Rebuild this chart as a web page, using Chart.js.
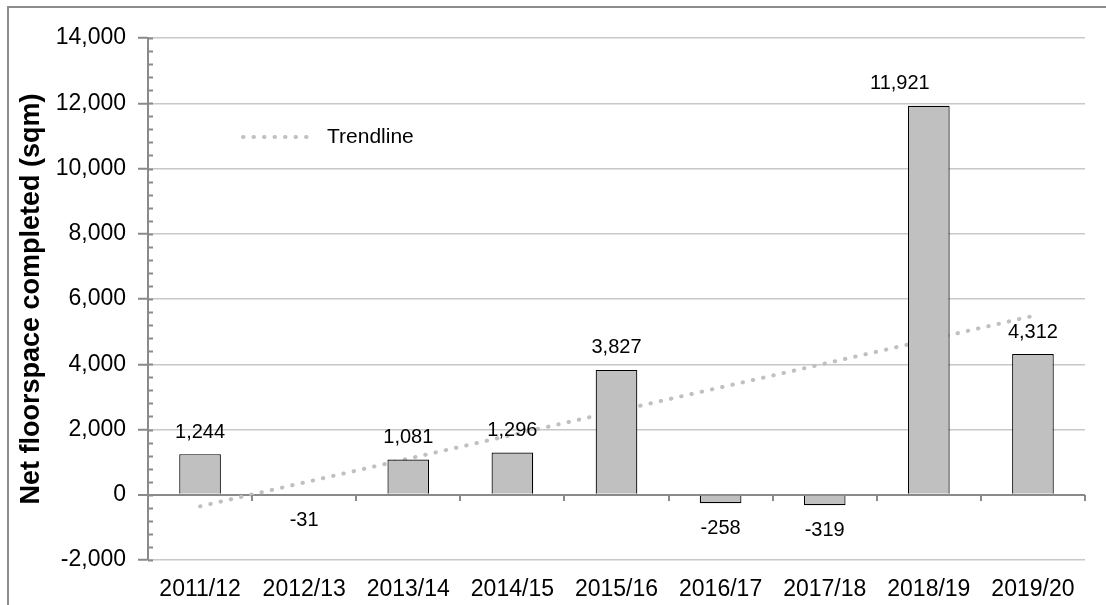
<!DOCTYPE html>
<html>
<head>
<meta charset="utf-8">
<script src="https://cdn.jsdelivr.net/npm/chart.js@4.4.1/dist/chart.umd.min.js"></script>
<style>
  body { margin: 0; background: #fff; }
  #wrap { position: relative; width: 1106px; height: 605px; overflow: hidden; }
  #frame { position: absolute; left: 7px; top: 6px; width: 1200px; height: 700px;
           border-top: 2px solid #8c8c8c; border-left: 2px solid #8c8c8c; }
  canvas { position: absolute; left: 0; top: 0; }
</style>
</head>
<body>
<div id="wrap">
  <div id="frame"></div>
  <canvas id="chart" width="1106" height="605"></canvas>
</div>
<script>
// Net floorspace completed per monitoring year
const years = ['2011/12', '2012/13', '2013/14', '2014/15', '2015/16',
               '2016/17', '2017/18', '2018/19', '2019/20'];
const floorspace = [1244, -31, 1081, 1296, 3827, -258, -319, 11921, 4312];
// linear trendline, one point per year
const trendline = [-355, 375, 1105, 1835, 2565, 3290, 4020, 4750, 5480];
const yTicks = [-2000, 0, 2000, 4000, 6000, 8000, 10000, 12000, 14000];

const FONT = "'Liberation Sans', Arial, sans-serif";
const AXIS_GREY = '#8a8a8a';
// the 2018/19 label sits a little left of its bar in the original
const LABEL_NUDGE = { 7: -29 };

const fmt = v => v.toLocaleString('en-US');

// value labels above/below the bars
const barLabels = {
  id: 'barLabels',
  afterDatasetsDraw(chart) {
    const ctx = chart.ctx;
    const meta = chart.getDatasetMeta(0);
    ctx.save();
    ctx.font = '20px ' + FONT;
    ctx.fillStyle = '#000';
    ctx.textAlign = 'center';
    ctx.textBaseline = 'middle';
    meta.data.forEach((bar, i) => {
      const v = floorspace[i];
      const y = v >= 0 ? bar.y - 22 : bar.y + 25;
      ctx.fillText(fmt(v), bar.x + (LABEL_NUDGE[i] || 0), y);
    });
    ctx.restore();
  }
};

// excel-ish axis details: minor ticks on y, category ticks hanging off the zero line,
// and the legend sitting inside the plot
const axisBits = {
  id: 'axisBits',
  afterDraw(chart) {
    const ctx = chart.ctx;
    const { left, right, top } = chart.chartArea;
    const y = chart.scales.y;
    const x = chart.scales.x;
    ctx.save();
    ctx.strokeStyle = AXIS_GREY;
    ctx.lineWidth = 2;
    ctx.beginPath();
    for (let v = y.min; v <= y.max; v += 400) {
      const py = Math.round(y.getPixelForValue(v)) + 0.5;
      ctx.moveTo(left, py);
      ctx.lineTo(left + 5, py);
    }
    const zy = Math.round(y.getPixelForValue(0));
    for (let i = 0; i < years.length; i++) {
      const bx = i < years.length - 1
        ? (x.getPixelForValue(i) + x.getPixelForValue(i + 1)) / 2
        : right;
      ctx.moveTo(Math.round(bx), zy);
      ctx.lineTo(Math.round(bx), zy + 6);
    }
    ctx.stroke();

    // legend
    const ds = chart.data.datasets[1];
    const ly = top + 99;
    ctx.strokeStyle = ds.borderColor;
    ctx.lineWidth = ds.borderWidth;
    ctx.lineCap = 'round';
    ctx.setLineDash(ds.borderDash);
    ctx.beginPath();
    ctx.moveTo(left + 95, ly);
    ctx.lineTo(left + 166, ly);
    ctx.stroke();
    ctx.setLineDash([]);
    ctx.fillStyle = '#000';
    ctx.font = '21px ' + FONT;
    ctx.textAlign = 'left';
    ctx.textBaseline = 'middle';
    ctx.fillText(ds.label, left + 179, ly);
    ctx.restore();
  }
};

new Chart(document.getElementById('chart'), {
  data: {
    labels: years,
    datasets: [
      {
        type: 'bar',
        label: 'Net floorspace',
        data: floorspace,
        backgroundColor: '#c0c0c0',
        borderColor: '#000',
        borderWidth: 1.2,
        barPercentage: 0.4,
        categoryPercentage: 1,
        order: 1,
      },
      {
        type: 'line',
        label: 'Trendline',
        data: trendline,
        borderColor: '#c0c0c0',
        borderWidth: 4,
        borderDash: [0.5, 10],
        borderCapStyle: 'round',
        pointRadius: 0,
        fill: false,
        order: 2,
      },
    ],
  },
  options: {
    responsive: false,
    animation: false,
    devicePixelRatio: 1,
    layout: { padding: { top: 38, right: 21, bottom: 0, left: 0 } },
    plugins: {
      legend: { display: false },
      tooltip: { enabled: false },
    },
    scales: {
      x: {
        grid: { display: false, drawTicks: false },
        border: { display: false },
        ticks: { color: '#000', font: { family: FONT, size: 23 }, padding: 16, maxRotation: 0 },
        afterFit: s => { s.height = 45; },
      },
      y: {
        min: -2000,
        max: 14000,
        afterBuildTicks: s => { s.ticks = yTicks.map(v => ({ value: v })); },
        ticks: {
          color: '#000',
          font: { family: FONT, size: 23 },
          padding: 12,
          callback: v => fmt(v),
        },
        grid: {
          color: c => (c.tick && c.tick.value === 0 ? AXIS_GREY : '#c8c8c8'),
          lineWidth: c => (c.tick && c.tick.value === 0 ? 2 : 1.5),
          tickLength: 10,
          tickColor: AXIS_GREY,
          tickWidth: 2,
        },
        border: { color: AXIS_GREY, width: 2 },
        title: {
          display: true,
          text: 'Net floorspace completed (sqm)',
          color: '#000',
          font: { family: FONT, size: 27, weight: 'bold' },
          padding: { top: 15, bottom: 0 },
        },
        afterFit: s => { s.width = 148; },
      },
    },
  },
  plugins: [barLabels, axisBits],
});
</script>
</body>
</html>
